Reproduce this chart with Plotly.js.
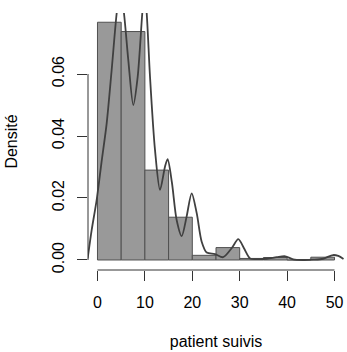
<!DOCTYPE html>
<html>
<head>
<meta charset="utf-8">
<script src="https://cdn.plot.ly/plotly-3.0.1.min.js"></script>
<style>html,body{margin:0;padding:0;background:#fff;}#chart{width:347px;height:352px;}</style>
</head>
<body>
<div id="chart"></div>
<script>
// Histogram bins (patient suivis) and densities
const breaks = [0, 5, 10, 15, 20, 25, 30, 35, 40, 45, 50];
const densities = [0.0767, 0.0737, 0.0290, 0.0138, 0.0015, 0.0040, 0.0005, 0.0008, 0.0, 0.0009];

// Kernel density curve
const curveX = [-2.07, -1.22, -0.17, 0.89, 1.94, 2.99, 4.05, 4.8, 5.59, 6.5, 7.55, 8.48, 9.45, 9.9, 10.38, 11.08, 12.13, 13.19, 14.24, 14.8, 15.7, 16.7, 17.76, 18.8, 19.87, 20.93, 21.98, 23.04, 24.8, 26.5, 28.3, 29.7, 30.9, 32.2, 33.6, 35.7, 37.8, 39.6, 41.3, 43.4, 45.5, 47.6, 49.7, 50.8, 51.9];
const curveY = [0.0005, 0.0097, 0.0194, 0.0320, 0.0441, 0.0613, 0.0796, 0.0880, 0.0796, 0.0645, 0.0500, 0.0591, 0.0796, 0.0870, 0.0796, 0.0591, 0.0355, 0.0226, 0.0301, 0.0325, 0.0250, 0.0129, 0.0077, 0.0140, 0.0215, 0.0151, 0.0059, 0.0024, 0.0019, 0.0009, 0.0038, 0.0067, 0.0038, 0.0005, 0.0003, 0.0004, 0.0009, 0.0012, 0.0002, 0.0000, 0.0001, 0.0004, 0.0016, 0.0013, 0.0003];

const xTicks = [0, 10, 20, 30, 40, 50];
const yTicks = [0.00, 0.02, 0.04, 0.06];
const yTickText = ["0.00", "0.02", "0.04", "0.06"];

const mids = densities.map((d, i) => (breaks[i] + breaks[i + 1]) / 2);
const widths = densities.map((d, i) => breaks[i + 1] - breaks[i]);

const bars = {
  type: 'bar',
  x: mids,
  y: densities,
  width: widths,
  marker: {color: '#999999', line: {color: '#505050', width: 1}},
  hoverinfo: 'skip'
};

const curve = {
  type: 'scatter',
  mode: 'lines',
  x: curveX,
  y: curveY,
  line: {color: '#404040', width: 1.8, shape: 'spline', smoothing: 0.8},
  hoverinfo: 'skip'
};

const font = {family: 'Liberation Sans, Arial, sans-serif', size: 16, color: '#000'};

const layout = {
  width: 347,
  height: 352,
  margin: {l: 88, r: 3, t: 13, b: 82},
  paper_bgcolor: '#fff',
  plot_bgcolor: '#fff',
  showlegend: false,
  bargap: 0,
  font: font,
  xaxis: {
    range: [-2, 52],
    tickvals: xTicks,
    ticktext: xTicks.map(String),
    ticks: 'outside', ticklen: 10, tickwidth: 1, tickcolor: '#333',
    showline: false, showgrid: false, zeroline: false,
    ticklabelstandoff: 8,
    tickfont: font,
    title: {text: 'patient suivis', font: font, standoff: 25}
  },
  yaxis: {
    range: [-0.00323, 0.07968],
    tickvals: yTicks,
    ticktext: yTickText,
    tickangle: -90,
    ticks: 'outside', ticklen: 10, tickwidth: 1, tickcolor: '#333',
    showline: false, showgrid: false, zeroline: false,
    ticklabelstandoff: 7,
    tickfont: font,
    title: {text: 'Densité', font: font, standoff: 27}
  },
  shapes: [
    {type: 'line', xref: 'x', yref: 'paper', x0: xTicks[0], x1: xTicks[xTicks.length - 1], y0: 0, y1: 0, line: {color: '#333', width: 1}},
    {type: 'line', xref: 'paper', yref: 'y', x0: 0, x1: 0, y0: yTicks[0], y1: yTicks[yTicks.length - 1], line: {color: '#333', width: 1}}
  ]
};

Plotly.newPlot('chart', [bars, curve], layout, {displayModeBar: false, staticPlot: true});
</script>
</body>
</html>
